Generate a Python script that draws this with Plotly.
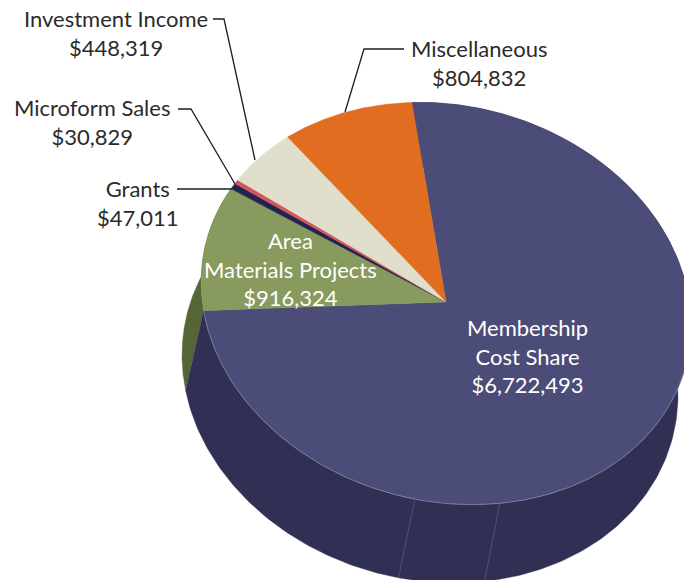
import numpy as np
import plotly.graph_objects as go

categories = ["Membership<br>Cost Share", "Area<br>Materials Projects", "Grants",
              "Microform Sales", "Investment Income", "Miscellaneous"]
values = [6722493, 916324, 47011, 30829, 448319, 804832]
top_colors = ["#4C4C78", "#889A5E", "#23234F", "#D5565A", "#E0DFCB", "#E06D20"]
wall_colors = ["#303054", "#556535", "#23234F", "#D5565A", "#E0DFCB", "#E06D20"]
divider_angles = [167.3, 187.3]

START = -8.0
APEX = (446.0, 302.0)
TOP = dict(cx=446.0, cy=303.5, rx=244.9, ry=200.0, sy=21.6, off=0.0)
BOT = dict(cx=430.0, cy=375.0, rx=248.0, ry=207.0, sy=20.0, off=-1.7)


def pt(e, deg):
    a = np.radians(np.asarray(deg, dtype=float) + e["off"])
    return e["cx"] + e["rx"] * np.sin(a), e["cy"] + e["sy"] * np.sin(a) - e["ry"] * np.cos(a)


total = sum(values)
sweeps = [v / total * 360 for v in values]
edges = START + np.concatenate([[0], np.cumsum(sweeps)])

fig = go.Figure()


def poly(x, y, color):
    fig.add_trace(go.Scatter(x=x, y=y, mode="lines", fill="toself", fillcolor=color,
                             line=dict(width=0.4, color=color), hoverinfo="skip", showlegend=False))


# side walls (only membership and area face the viewer)
for i in [1, 0]:
    t = np.linspace(edges[i], edges[i + 1], 240)
    xt, yt = pt(TOP, t)
    xb, yb = pt(BOT, t[::-1])
    poly(np.r_[xt, xb], np.r_[yt, yb], wall_colors[i])

# facet lines on the wall
for d in divider_angles:
    xa, ya = pt(TOP, [d])
    xb, yb = pt(BOT, [d + 1.7])
    fig.add_trace(go.Scatter(x=[xa[0], xb[0]], y=[ya[0], yb[0]], mode="lines",
                             line=dict(width=0.5, color="#6E6E90"),
                             hoverinfo="skip", showlegend=False))

# top face
for i in range(len(values)):
    t = np.linspace(edges[i], edges[i + 1], max(4, int(sweeps[i] * 3)))
    xt, yt = pt(TOP, t)
    poly(np.r_[APEX[0], xt, APEX[0]], np.r_[APEX[1], yt, APEX[1]], top_colors[i])

# light rim along the lower top edge
t = np.linspace(edges[0] + 95, edges[1], 200)
xt, yt = pt(TOP, t)
fig.add_trace(go.Scatter(x=xt, y=yt, mode="lines", line=dict(width=0.7, color="#8A8AA6"),
                         hoverinfo="skip", showlegend=False))

# labels: (category index, x centre, y centre, colour)
FONT = "Lato, 'Open Sans', sans-serif"
label_pos = [(0, 527.5, 356, "white"), (1, 290, 269, "white"), (2, 138, 202.5, "#2B2B2B"),
             (3, 92, 122, "#2B2B2B"), (4, 116, 33, "#2B2B2B"), (5, 478.5, 63, "#2B2B2B")]
annotations = []
for i, x, y, c in label_pos:
    annotations.append(dict(x=x, y=y, xref="x", yref="y", showarrow=False, align="center",
                            text=f"{categories[i]}<br>${values[i]:,}",
                            font=dict(family=FONT, size=22, color=c)))

# leader lines
leaders = ["M213,19 L224,19 L255,160", "M178,109 L191,109 L235,184",
           "M177,189 L232,189", "M404,49 L364,49 L345,112"]
shapes = [dict(type="path", path=p, xref="x", yref="y", line=dict(color="#1E1E1E", width=1.3))
          for p in leaders]

fig.update_layout(width=684, height=580, margin=dict(l=0, r=0, t=0, b=0),
                  paper_bgcolor="white", plot_bgcolor="white", showlegend=False,
                  xaxis=dict(range=[0, 684], visible=False, fixedrange=True),
                  yaxis=dict(range=[580, 0], visible=False, fixedrange=True),
                  annotations=annotations, shapes=shapes)
fig.write_html("out.html", config={"displayModeBar": False},
               post_script="document.body.style.margin='0';document.body.style.overflow='hidden';")
